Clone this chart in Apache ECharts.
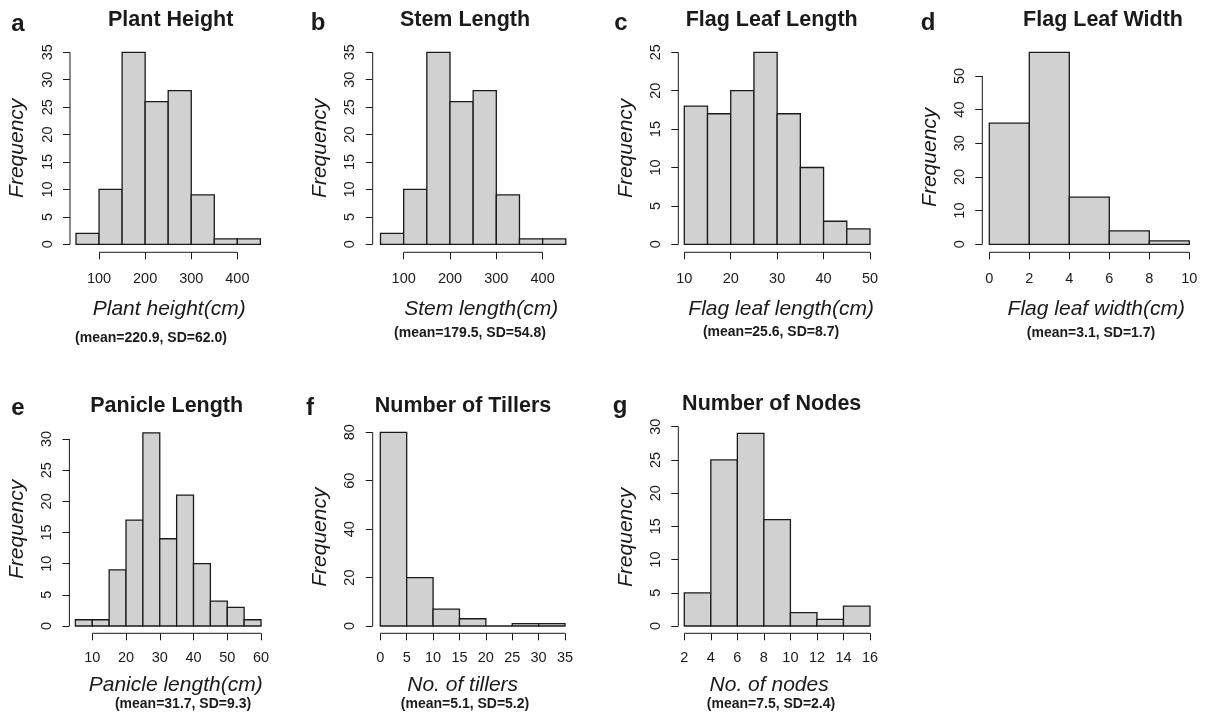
<!DOCTYPE html>
<html>
<head>
<meta charset="utf-8">
<script src="https://cdn.jsdelivr.net/npm/echarts@6/dist/echarts.min.js"></script>
<style>
html,body{margin:0;padding:0;background:#fff;}
#chart{width:1210px;height:723px;}
</style>
</head>
<body>
<div id="chart"></div>
<script>
// ---------- data ----------
const letters = ['a','b','c','d','e','f','g'];
const titles = ['Plant Height','Stem Length','Flag Leaf Length','Flag Leaf Width','Panicle Length','Number of Tillers','Number of Nodes'];
const xNames = ['Plant height(cm)','Stem length(cm)','Flag leaf length(cm)','Flag leaf width(cm)','Panicle length(cm)','No. of tillers','No. of nodes'];
const notes = ['(mean=220.9, SD=62.0)','(mean=179.5, SD=54.8)','(mean=25.6, SD=8.7)','(mean=3.1, SD=1.7)','(mean=31.7, SD=9.3)','(mean=5.1, SD=5.2)','(mean=7.5, SD=2.4)'];

const breaksPlantHeight = [50,100,150,200,250,300,350,400,450];
const countsPlantHeight = [2,10,35,26,28,9,1,1];
const breaksStemLength = [50,100,150,200,250,300,350,400,450];
const countsStemLength = [2,10,35,26,28,9,1,1];
const breaksFlagLeafLength = [10,15,20,25,30,35,40,45,50];
const countsFlagLeafLength = [18,17,20,25,17,10,3,2];
const breaksFlagLeafWidth = [0,2,4,6,8,10];
const countsFlagLeafWidth = [36,57,14,4,1];
const breaksPanicleLength = [5,10,15,20,25,30,35,40,45,50,55,60];
const countsPanicleLength = [1,1,9,17,31,14,21,10,4,3,1];
const breaksTillers = [0,5,10,15,20,25,30,35];
const countsTillers = [80,20,7,3,0,1,1];
const breaksNodes = [2,4,6,8,10,12,14,16];
const countsNodes = [5,25,29,16,2,1,3];

const xTicksPlantHeight = [100,200,300,400];
const xTicksStemLength = [100,200,300,400];
const xTicksFlagLeafLength = [10,20,30,40,50];
const xTicksFlagLeafWidth = [0,2,4,6,8,10];
const xTicksPanicleLength = [10,20,30,40,50,60];
const xTicksTillers = [0,5,10,15,20,25,30,35];
const xTicksNodes = [2,4,6,8,10,12,14,16];

const yTicksPlantHeight = [0,5,10,15,20,25,30,35];
const yTicksStemLength = [0,5,10,15,20,25,30,35];
const yTicksFlagLeafLength = [0,5,10,15,20,25];
const yTicksFlagLeafWidth = [0,10,20,30,40,50];
const yTicksPanicleLength = [0,5,10,15,20,25,30];
const yTicksTillers = [0,20,40,60,80];
const yTicksNodes = [0,5,10,15,20,25,30];

const breaks = [breaksPlantHeight,breaksStemLength,breaksFlagLeafLength,breaksFlagLeafWidth,breaksPanicleLength,breaksTillers,breaksNodes];
const counts = [countsPlantHeight,countsStemLength,countsFlagLeafLength,countsFlagLeafWidth,countsPanicleLength,countsTillers,countsNodes];
const xTicks = [xTicksPlantHeight,xTicksStemLength,xTicksFlagLeafLength,xTicksFlagLeafWidth,xTicksPanicleLength,xTicksTillers,xTicksNodes];
const yTicks = [yTicksPlantHeight,yTicksStemLength,yTicksFlagLeafLength,yTicksFlagLeafWidth,yTicksPanicleLength,yTicksTillers,yTicksNodes];

// ---------- layout (pixels) ----------
const layout = [
  {left:76,    top:52.3,  width:184.4, height:192,   yOff:6,   xOff:8,   letter:[18,24],    title:[170.7,20],  note:[151,338],  yNamePad:0,  xNameShift:1,   row:0},
  {left:380.5, top:52.3,  width:185.3, height:192,   yOff:7.8, xOff:8,   letter:[318,23.5], title:[465,20],    note:[470,333],  yNamePad:0,  xNameShift:8,   row:0},
  {left:684.3, top:52.3,  width:185.7, height:192,   yOff:6,   xOff:8,   letter:[621,23.5], title:[771.7,20],  note:[771,332],  yNamePad:0,  xNameShift:4,   row:0},
  {left:989.3, top:52.3,  width:200,   height:192,   yOff:7,   xOff:8,   letter:[928,23.5], title:[1103,20],   note:[1091,333], yNamePad:18, xNameShift:7,   row:0},
  {left:75.4,  top:432.8, width:185.6, height:193.2, yOff:6,   xOff:7.3, letter:[18,408],   title:[166.7,406], note:[183,704],  yNamePad:0,  xNameShift:7.5, row:1},
  {left:380.3, top:432.3, width:184.7, height:193.7, yOff:7.6, xOff:7.3, letter:[310,408],  title:[463,406],   note:[465,704],  yNamePad:16, xNameShift:-10, row:1},
  {left:684.3, top:426.7, width:185.7, height:199.3, yOff:6,   xOff:7.3, letter:[620,406],  title:[771.7,404], note:[771,704],  yNamePad:22, xNameShift:-8,  row:1}
];

const FONT = '"Liberation Sans", Arial, Helvetica, sans-serif';
const INK = '#1a1a1a';
const FILL = '#d0d1d0';

const grids = [], xAxes = [], yAxes = [], series = [], graphics = [];

layout.forEach((L, i) => {
  const br = breaks[i], ct = counts[i], xt = xTicks[i], yt = yTicks[i];
  const yMax = Math.max(Math.max(...ct), yt[yt.length - 1]);
  const s = L.xNameShift;
  grids.push({left: L.left, top: L.top, width: L.width, height: L.height, containLabel: false});
  xAxes.push({
    gridIndex: i, type: 'value', min: br[0], max: br[br.length - 1],
    offset: L.xOff,
    axisLine: {show: false, onZero: false},
    splitLine: {show: false},
    axisTick: {show: true, inside: false, length: 7, customValues: xt, lineStyle: {color: INK, width: 1}},
    axisLabel: {show: true, customValues: xt, margin: L.row === 0 ? 19 : 17, color: INK, fontSize: 14.5, fontFamily: FONT},
    name: xNames[i], nameLocation: 'middle', nameGap: L.row === 0 ? 46 : 41,
    nameTextStyle: {fontSize: 21, fontStyle: 'italic', fontFamily: FONT, color: INK,
      padding: [0, s < 0 ? -2 * s : 0, 0, s > 0 ? 2 * s : 0]}
  });
  yAxes.push({
    gridIndex: i, type: 'value', min: 0, max: yMax,
    offset: L.yOff,
    axisLine: {show: false, onZero: false},
    splitLine: {show: false},
    axisTick: {show: true, inside: false, length: 7, customValues: yt, lineStyle: {color: INK, width: 1}},
    axisLabel: {show: true, customValues: yt, rotate: 90, margin: 15, color: INK, fontSize: 14.5, fontFamily: FONT},
    name: 'Frequency', nameLocation: 'middle', nameRotate: 90, nameGap: 42,
    nameTextStyle: {fontSize: 21, fontStyle: 'italic', fontFamily: FONT, color: INK, padding: [0, L.yNamePad, 0, 0]}
  });
  // histogram bars
  const barData = ct.map((c, k) => [br[k], br[k + 1], c]);
  series.push({
    type: 'custom', xAxisIndex: i, yAxisIndex: i, silent: true,
    encode: {x: [0, 1], y: 2},
    data: barData,
    renderItem: (params, api) => {
      const p0 = api.coord([api.value(0), 0]);
      const p1 = api.coord([api.value(1), api.value(2)]);
      return {type: 'rect',
        shape: {x: p0[0], y: p1[1], width: p1[0] - p0[0], height: p0[1] - p1[1]},
        style: {fill: FILL, stroke: INK, lineWidth: 1.3}};
    }
  });
  // R-style axis lines (span from first to last tick)
  const xOff = L.xOff, yOff = L.yOff;
  series.push({
    type: 'custom', xAxisIndex: i, yAxisIndex: i, silent: true,
    encode: {x: [0, 1, 2], y: 3},
    data: [[xt[0], xt[xt.length - 1], br[0], yt[yt.length - 1]]],
    renderItem: (params, api) => {
      const a = api.coord([api.value(0), 0]);
      const b = api.coord([api.value(1), 0]);
      const c = api.coord([api.value(2), 0]);
      const d = api.coord([api.value(2), api.value(3)]);
      return {type: 'group', children: [
        {type: 'line', shape: {x1: a[0], y1: a[1] + xOff, x2: b[0], y2: b[1] + xOff}, style: {stroke: INK, lineWidth: 1}},
        {type: 'line', shape: {x1: c[0] - yOff, y1: c[1], x2: d[0] - yOff, y2: d[1]}, style: {stroke: INK, lineWidth: 1}}
      ]};
    }
  });
  // letters, titles, notes
  graphics.push({type: 'text', x: L.letter[0], y: L.letter[1], style: {text: letters[i], font: 'bold 24px ' + FONT, fill: INK, textAlign: 'center', textVerticalAlign: 'middle'}});
  graphics.push({type: 'text', x: L.title[0], y: L.title[1], style: {text: titles[i], font: 'bold 21.5px ' + FONT, fill: INK, textAlign: 'center', textVerticalAlign: 'middle'}});
  graphics.push({type: 'text', x: L.note[0], y: L.note[1], style: {text: notes[i], font: 'bold 14px ' + FONT, fill: INK, textAlign: 'center', textVerticalAlign: 'middle'}});
});

const chart = echarts.init(document.getElementById('chart'), null, {renderer: 'canvas'});
chart.setOption({
  backgroundColor: '#ffffff',
  animation: false,
  grid: grids,
  xAxis: xAxes,
  yAxis: yAxes,
  series: series,
  graphic: graphics
});
</script>
</body>
</html>
